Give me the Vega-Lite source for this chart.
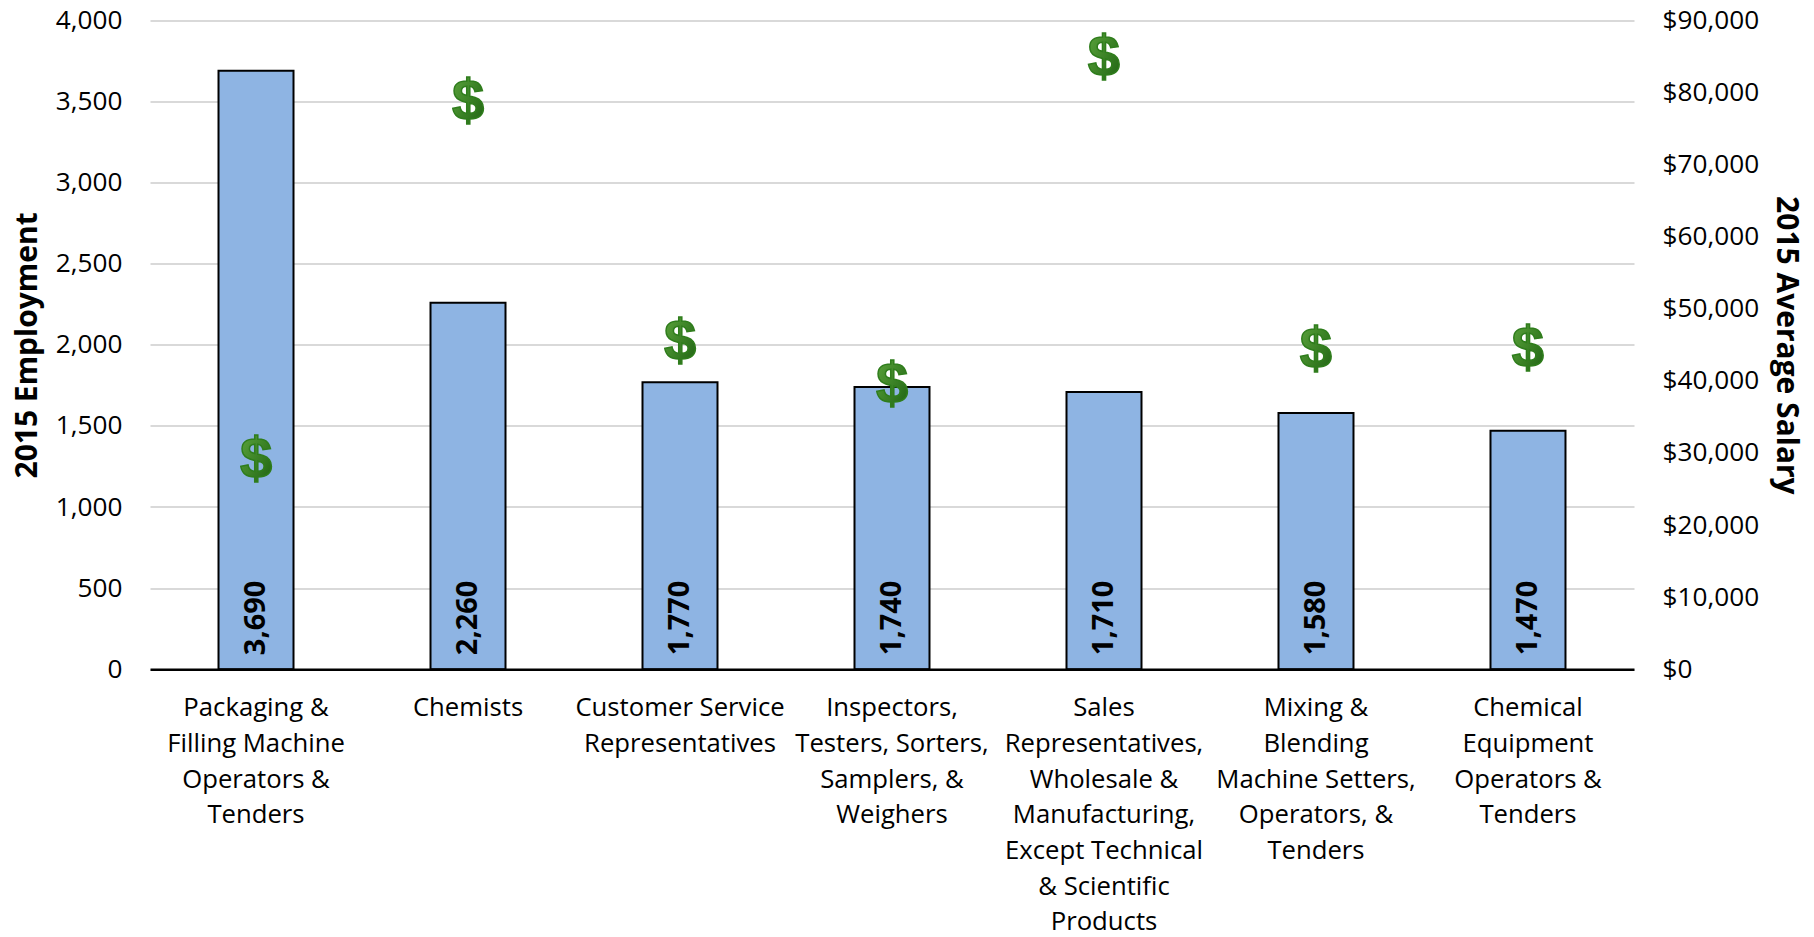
{"$schema":"https://vega.github.io/schema/vega-lite/v6.json","width":1484,"height":648.6,"autosize":"none","padding":{"left":150,"top":20.6,"right":180,"bottom":268},"background":"white","config":{"view":{"stroke":null},"font":"Open Sans"},"data":{"values":[{"occupation":"Packaging &|Filling Machine|Operators &|Tenders","employment":3690,"salary":29100},{"occupation":"Chemists","employment":2260,"salary":78900},{"occupation":"Customer Service|Representatives","employment":1770,"salary":45500},{"occupation":"Inspectors,|Testers, Sorters,|Samplers, &|Weighers","employment":1740,"salary":39600},{"occupation":"Sales|Representatives,|Wholesale &|Manufacturing,|Except Technical|& Scientific|Products","employment":1710,"salary":85000},{"occupation":"Mixing &|Blending|Machine Setters,|Operators, &|Tenders","employment":1580,"salary":44400},{"occupation":"Chemical|Equipment|Operators &|Tenders","employment":1470,"salary":44600}]},"encoding":{"x":{"field":"occupation","type":"nominal","sort":null,"scale":{"paddingInner":0.646,"paddingOuter":0.323},"axis":{"title":null,"labelAngle":0,"labelAlign":"center","labelBaseline":"top","labelExpr":"split(datum.label,'|')","labelFontSize":25.7,"labelLineHeight":35.7,"labelPadding":26.6,"labelColor":"#000000","labelLimit":300,"ticks":false,"domainColor":"#000000","domainWidth":2.5,"zindex":2}}},"layer":[{"mark":{"type":"bar","fill":"#8eb4e3","stroke":"#000000","strokeWidth":2,"size":75},"encoding":{"y":{"field":"employment","type":"quantitative","scale":{"domain":[0,4000]},"axis":{"title":"2015 Employment","titleFontSize":30,"titleFontWeight":"bold","titleColor":"#000000","titlePadding":13,"values":[0,500,1000,1500,2000,2500,3000,3500,4000],"format":",.0f","labelFontSize":26.2,"labelColor":"#000000","labelPadding":28,"ticks":false,"domain":false,"grid":true,"gridColor":"#d9d9d9","gridWidth":2}}}},{"mark":{"type":"text","angle":270,"align":"left","baseline":"middle","dx":14,"fontSize":29,"fontWeight":"bold","color":"#000000"},"encoding":{"y":{"datum":0,"type":"quantitative","scale":{"domain":[0,4000]},"axis":null},"text":{"field":"employment","type":"quantitative","format":","}}},{"mark":{"type":"text","fontSize":58,"fontWeight":"bold","font":"Liberation Sans","align":"center","baseline":"middle","dy":2,"strokeWidth":1.5,"stroke":"#2f7d1c","fill":{"gradient":"linear","x1":0,"y1":0,"x2":1,"y2":1,"stops":[{"offset":0,"color":"#5fa83e"},{"offset":1,"color":"#1b5f10"}]}},"encoding":{"y":{"field":"salary","type":"quantitative","scale":{"domain":[0,90000]},"axis":{"title":"2015 Average Salary","orient":"right","titleFontSize":30,"titleFontWeight":"bold","titleColor":"#000000","titlePadding":12,"values":[0,10000,20000,30000,40000,50000,60000,70000,80000,90000],"format":"$,.0f","labelFontSize":26.2,"labelColor":"#000000","labelPadding":28,"ticks":false,"domain":false,"grid":false}},"text":{"value":"$"}}}],"resolve":{"scale":{"y":"independent"}}}
